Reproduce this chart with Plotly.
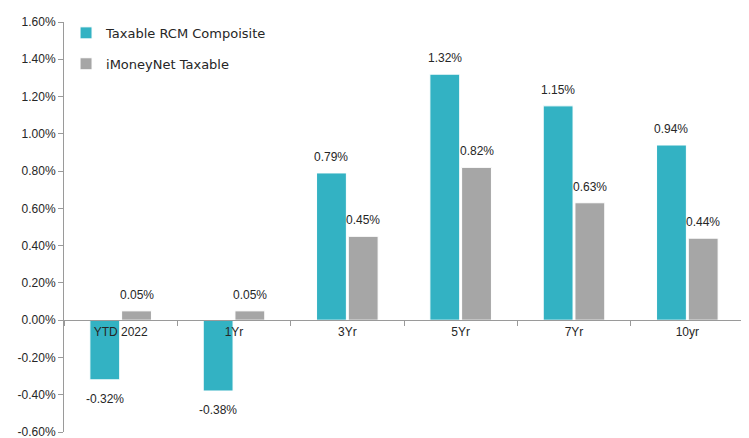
import plotly.graph_objects as go

categories = ["YTD 2022", "1Yr", "3Yr", "5Yr", "7Yr", "10yr"]
rcm_values = [-0.32, -0.38, 0.79, 1.32, 1.15, 0.94]
imoney_values = [0.05, 0.05, 0.45, 0.82, 0.63, 0.44]
series_names = ["Taxable RCM Compoisite", "iMoneyNet Taxable"]
y_ticks = [-0.6, -0.4, -0.2, 0.0, 0.2, 0.4, 0.6, 0.8, 1.0, 1.2, 1.4, 1.6]
y_tick_labels = ["-0.60%", "-0.40%", "-0.20%", "0.00%", "0.20%", "0.40%",
                 "0.60%", "0.80%", "1.00%", "1.20%", "1.40%", "1.60%"]
y_min, y_max = -0.6, 1.6

TEAL = "#33B2C3"
GRAY = "#A6A6A6"
TXT = "#262626"
AX = "#9A9A9A"
LABEL_FONT = dict(family="Liberation Sans, Arial, sans-serif", size=12, color=TXT)

fig = go.Figure()
for name, vals, col in [(series_names[0], rcm_values, TEAL), (series_names[1], imoney_values, GRAY)]:
    fig.add_trace(go.Bar(
        name=name, x=categories, y=vals, legendgroup=name,
        marker=dict(color=col, line=dict(color="white", width=1)),
    ))

annotations = []
for vals, xs in [(rcm_values, -16), (imoney_values, 16)]:
    for c, v in zip(categories, vals):
        annotations.append(dict(
            x=c, y=v, xref="x", yref="y", text=f"{v:.2f}%", showarrow=False,
            xshift=xs, yshift=16 if v >= 0 else -19, font=LABEL_FONT,
        ))

# page body has an 8px margin; compensate so the plot area lands where the reference has it
fig.update_layout(
    width=741, height=430,
    margin=dict(l=56, r=5, t=14, b=6),
    paper_bgcolor="white", plot_bgcolor="white",
    barmode="group", bargap=0.44, bargroupgap=0.06,
    annotations=annotations,
    showlegend=True,
    legend=dict(
        x=0.003, y=1.01, xanchor="left", yanchor="top",
        font=dict(family="DejaVu Sans, sans-serif", size=13, color=TXT),
        tracegroupgap=11, bgcolor="rgba(0,0,0,0)",
    ),
    xaxis=dict(
        anchor="free", position=(0 - y_min) / (y_max - y_min),
        showline=True, linecolor=AX, linewidth=1,
        ticks="outside", tickson="boundaries", ticklen=5, tickcolor=AX,
        tickfont=LABEL_FONT, showgrid=False, zeroline=False, automargin=False,
    ),
    yaxis=dict(
        range=[y_min, y_max], tickmode="array",
        tickvals=y_ticks, ticktext=y_tick_labels, ticklabeloverflow="allow",
        showline=True, linecolor=AX, linewidth=1,
        ticks="outside", ticklen=5, tickcolor=AX,
        tickfont=LABEL_FONT, showgrid=False, zeroline=False, automargin=False,
    ),
)

fig.write_html("out.html")
